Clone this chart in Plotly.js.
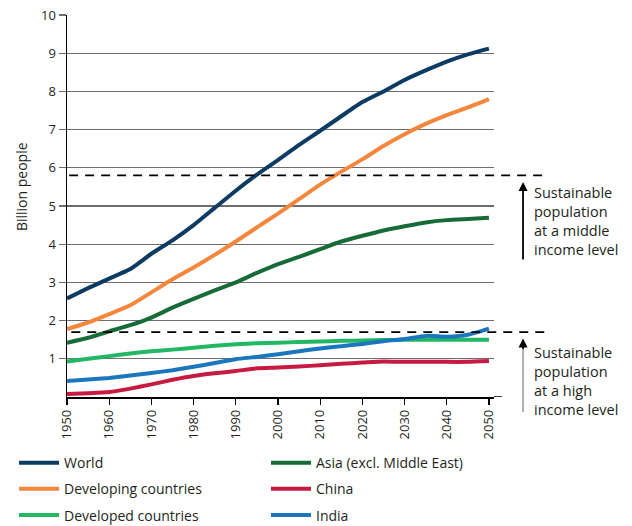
<!DOCTYPE html>
<html>
<head>
<meta charset="utf-8">
<script src="https://cdn.plot.ly/plotly-3.0.1.min.js"></script>
<style>
html,body{margin:0;padding:0;background:#ffffff;}
#chart{width:632px;height:526px;}
</style>
</head>
<body>
<div id="chart"></div>
<script>
// ---- data (billion people) ----
const years = [1950,1955,1960,1965,1970,1975,1980,1985,1990,1995,2000,2005,2010,2015,2020,2025,2030,2035,2040,2045,2050];
const world      = [2.58,2.85,3.10,3.35,3.75,4.10,4.50,4.95,5.40,5.82,6.20,6.60,6.97,7.35,7.72,8.00,8.30,8.55,8.78,8.97,9.12];
const developing = [1.78,1.95,2.17,2.40,2.74,3.08,3.39,3.72,4.07,4.44,4.80,5.18,5.56,5.90,6.22,6.57,6.88,7.15,7.38,7.58,7.80];
const developed  = [0.93,1.00,1.07,1.14,1.20,1.24,1.29,1.34,1.38,1.41,1.42,1.44,1.45,1.47,1.48,1.49,1.50,1.50,1.50,1.50,1.50];
const asia       = [1.42,1.55,1.72,1.88,2.08,2.34,2.57,2.79,3.00,3.25,3.48,3.67,3.87,4.07,4.22,4.36,4.47,4.57,4.63,4.66,4.69];
const china      = [0.08,0.10,0.13,0.22,0.33,0.45,0.55,0.62,0.68,0.75,0.77,0.80,0.83,0.87,0.90,0.93,0.92,0.92,0.92,0.92,0.94];
const india      = [0.42,0.46,0.50,0.56,0.63,0.70,0.79,0.89,0.99,1.05,1.12,1.20,1.27,1.33,1.39,1.46,1.52,1.60,1.58,1.63,1.79];

const seriesNames = ["World","Developing countries","Developed countries","Asia (excl. Middle East)","China","India"];
const xTicks = [1950,1960,1970,1980,1990,2000,2010,2020,2030,2040,2050];
const yTicks = [1,2,3,4,5,6,7,8,9,10];
const sustainableMiddle = 5.8;
const sustainableHigh = 1.7;
const middleLabel = "Sustainable<br>population<br>at a middle<br>income level";
const highLabel = "Sustainable<br>population<br>at a high<br>income level";
const yTitle = "Billion people";

// ---- styling ----
const FONT = "Open Sans, Noto Sans, sans-serif";
const TXT = "#231f20";
const colors = ["#0b3b62","#f5873d","#21b763","#166b37","#c61a41","#1a76bd"];
const values = [world, developing, developed, asia, china, india];
const legendIds = ["legend","legend","legend","legend2","legend2","legend2"];

const traces = values.map((v,i) => ({
  type: "scatter",
  mode: "lines",
  x: years,
  y: v,
  name: seriesNames[i],
  legend: legendIds[i],
  legendgroup: "g" + i,
  line: {color: colors[i], width: 4, shape: "spline", smoothing: 0.5},
  hoverinfo: "x+y+name"
}));

const legendCommon = {
  xanchor: "left", yanchor: "top",
  orientation: "v",
  font: {family: FONT, size: 14, color: TXT},
  itemwidth: 40,
  tracegroupgap: 5,
  bgcolor: "rgba(0,0,0,0)",
  borderwidth: 0,
  traceorder: "grouped"
};

const layout = {
  width: 632, height: 526,
  margin: {l: 67, r: 138, t: 15, b: 129, autoexpand: false},
  paper_bgcolor: "#ffffff",
  plot_bgcolor: "#ffffff",
  font: {family: FONT, color: TXT},
  showlegend: true,
  legend: Object.assign({}, legendCommon, {x: -0.124, y: -0.131}),
  legend2: Object.assign({}, legendCommon, {x: 0.466, y: -0.131}),
  xaxis: {
    range: [1950, 2051.2],
    tickvals: xTicks,
    ticktext: xTicks.map(String),
    tickangle: -90,
    ticks: "outside", ticklen: 6, tickwidth: 1.2, tickcolor: "#000",
    showline: true, linecolor: "#000", linewidth: 1.5,
    showgrid: false, zeroline: false,
    tickfont: {family: FONT, size: 13, color: TXT},
    fixedrange: true
  },
  yaxis: {
    range: [0, 10],
    tickvals: yTicks,
    ticktext: yTicks.map(String),
    ticks: "outside", ticklen: 7, tickwidth: 1.2, tickcolor: "#6d6d6d",
    showline: true, linecolor: "#000", linewidth: 1.5,
    showgrid: true, gridcolor: "#6d6d6d", gridwidth: 1.2,
    zeroline: false,
    tickfont: {family: FONT, size: 13, color: TXT},
    fixedrange: true
  },
  shapes: [
    {type: "line", xref: "paper", yref: "y", x0: 0.005, x1: 1.119, y0: sustainableMiddle, y1: sustainableMiddle,
     line: {color: "#000", width: 1.8, dash: "9px,7px"}},
    {type: "line", xref: "paper", yref: "y", x0: 0.01, x1: 1.119, y0: sustainableHigh, y1: sustainableHigh,
     line: {color: "#000", width: 1.8, dash: "9px,7px"}},
    {type: "line", xref: "paper", yref: "y", x0: 1, x1: 1.0187, y0: 0, y1: 0,
     line: {color: "#000", width: 1.5}}
  ],
  annotations: [
    {xref: "paper", yref: "y", x: -0.105, y: 5.5, text: yTitle, textangle: -90, showarrow: false,
     xanchor: "center", yanchor: "middle", font: {family: FONT, size: 14, color: TXT}},
    // upper arrow (black)
    {xref: "paper", yref: "y", x: 1.068, y: sustainableMiddle - 0.17, text: "", showarrow: true,
     ax: 0, ay: 79, arrowhead: 2, arrowsize: 1, arrowwidth: 1.8, arrowcolor: "#000"},
    // lower arrow shaft (grey)
    {xref: "paper", yref: "y", x: 1.068, y: sustainableHigh - 0.3, text: "", showarrow: true,
     ax: 0, ay: 70, arrowhead: 0, arrowwidth: 1.8, arrowcolor: "#a8a8a8"},
    // lower arrow head (black)
    {xref: "paper", yref: "y", x: 1.068, y: sustainableHigh - 0.17, text: "", showarrow: true,
     ax: 0, ay: 12, arrowhead: 2, arrowsize: 1, arrowwidth: 1.8, arrowcolor: "#000"},
    {xref: "paper", yref: "y", x: 1.089, y: 4.61, text: middleLabel, showarrow: false,
     xanchor: "left", yanchor: "middle", align: "left", font: {family: FONT, size: 14.5, color: TXT}},
    {xref: "paper", yref: "y", x: 1.089, y: 0.43, text: highLabel, showarrow: false,
     xanchor: "left", yanchor: "middle", align: "left", font: {family: FONT, size: 14.5, color: TXT}}
  ]
};

Plotly.newPlot("chart", traces, layout, {displayModeBar: false, staticPlot: true});
</script>
</body>
</html>
